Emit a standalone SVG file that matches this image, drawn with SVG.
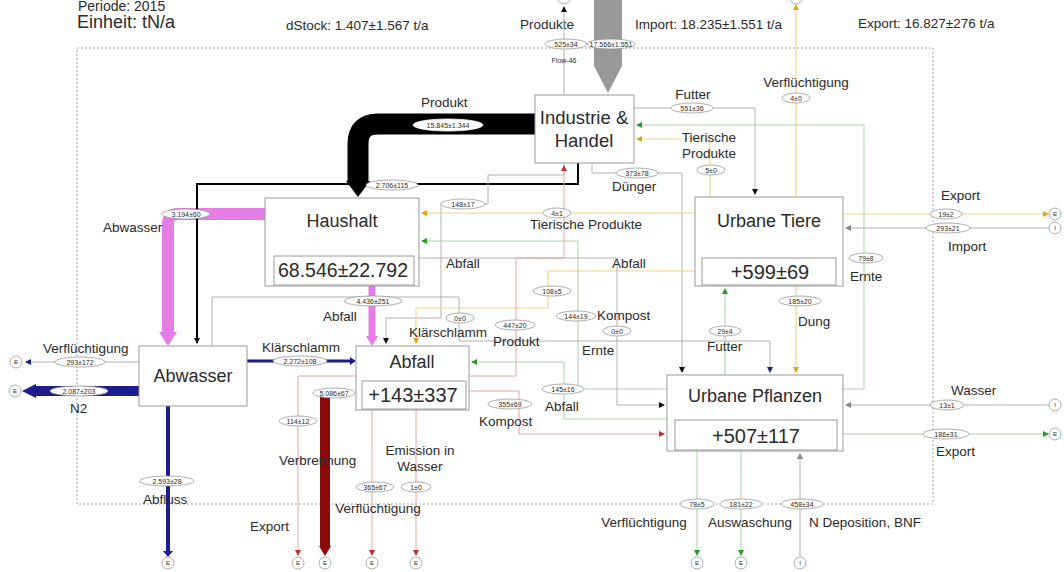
<svg xmlns="http://www.w3.org/2000/svg" width="1064" height="572" viewBox="0 0 1064 572">
<style>
text{font-family:"Liberation Sans",Arial,sans-serif;fill:#2a2a2a}
.t{font-size:13.5px}
.tm{font-size:13.5px;text-anchor:middle}
.head{font-size:17px}
.title{font-size:18px;text-anchor:middle}
.val{font-size:20px;text-anchor:middle}
.box{fill:#fff;stroke:#999;stroke-width:1}
.lb ellipse{fill:#fff;stroke:#999;stroke-width:0.8}
.lb text{font-size:7px;text-anchor:middle}
.c{fill:none;stroke:#b0b0b0;stroke-width:1}
.co{fill:none;stroke:#f2d58a;stroke-width:1.2}
.cg{fill:none;stroke:#a8d4a8;stroke-width:1}
.cr{fill:none;stroke:#e2a6a6;stroke-width:1}
.cir circle{fill:#fff;stroke:#999;stroke-width:0.8}
.cir text{font-size:6px;text-anchor:middle}
</style>
<defs>
<marker id="ak" markerWidth="6" markerHeight="6" refX="5" refY="3" orient="auto" markerUnits="userSpaceOnUse"><path d="M0,0 L6,3 L0,6z" fill="#111"/></marker>
<marker id="ao" markerWidth="6" markerHeight="6" refX="5" refY="3" orient="auto" markerUnits="userSpaceOnUse"><path d="M0,0 L6,3 L0,6z" fill="#e8a020"/></marker>
<marker id="ag" markerWidth="6" markerHeight="6" refX="5" refY="3" orient="auto" markerUnits="userSpaceOnUse"><path d="M0,0 L6,3 L0,6z" fill="#2a9a2a"/></marker>
<marker id="ar" markerWidth="6" markerHeight="6" refX="5" refY="3" orient="auto" markerUnits="userSpaceOnUse"><path d="M0,0 L6,3 L0,6z" fill="#c03030"/></marker>
<marker id="ab" markerWidth="6" markerHeight="6" refX="5" refY="3" orient="auto" markerUnits="userSpaceOnUse"><path d="M0,0 L6,3 L0,6z" fill="#1c1c8c"/></marker>
<marker id="ay" markerWidth="6" markerHeight="6" refX="5" refY="3" orient="auto" markerUnits="userSpaceOnUse"><path d="M0,0 L6,3 L0,6z" fill="#888"/></marker>
</defs>
<rect width="1064" height="572" fill="#fff"/>

<g id="header">
<text class="head" style="font-size:14px" x="78" y="11">Periode: 2015</text>
<text class="head" style="font-size:18px" x="77" y="28">Einheit: tN/a</text>
<text class="t" x="286" y="30">dStock: 1.407±1.567 t/a</text>
<text class="t" x="520" y="29">Produkte</text>
<text class="t" x="635" y="29">Import: 18.235±1.551 t/a</text>
<text class="t" x="858" y="28">Export: 16.827±276 t/a</text>
</g>

<rect id="boundary" x="77" y="48" width="856" height="456" fill="none" stroke="#aaa" stroke-width="1" stroke-dasharray="2,2"/>

<g id="connectors">
<path d="M594,0 H622 V66 L608,93 L594,66 Z" fill="#999"/>
<path d="M535,124 H378 Q358,124 358,144 V183" fill="none" stroke="#000" stroke-width="21"/>
<path d="M346,181 L370,181 L358,197 Z" fill="#000"/>
<path d="M265,214 H178 Q168,214 168,224 V333" fill="none" stroke="#e47ee4" stroke-width="12"/>
<path d="M159,332 L177,332 L168,346 Z" fill="#e47ee4"/>
<path d="M372,286 V337" fill="none" stroke="#e47ee4" stroke-width="7"/>
<path d="M366,336 L378,336 L372,346 Z" fill="#e47ee4"/>
<path d="M139,391 H34" fill="none" stroke="#1c1c8c" stroke-width="10"/>
<path d="M36,384 L36,398 L22,391 Z" fill="#1c1c8c"/>
<path d="M247,361 H352" fill="none" stroke="#1c1c8c" stroke-width="3"/>
<path d="M350,357 L356,361 L350,365 Z" fill="#1c1c8c"/>
<path d="M168,406 V552" fill="none" stroke="#1c1c8c" stroke-width="4"/>
<path d="M163,551 L173,551 L168,557 Z" fill="#1c1c8c"/>
<path d="M325,393 V547" fill="none" stroke="#8b0a0a" stroke-width="10"/>
<path d="M319,546 L331,546 L325,556 Z" fill="#8b0a0a"/>
<path class="c" d="M564,95 V7" stroke="#666" marker-end="url(#ak)"/>
<path d="M578,163 V184 H197 V343" fill="none" stroke="#000" stroke-width="2" marker-end="url(#ak)"/>
<path class="c" d="M634,108 H755 V194" marker-end="url(#ak)"/>
<path class="c" d="M592,163 V173 H682 V372" marker-end="url(#ak)"/>
<path class="c" d="M564,163 V175 H488 V204 H441 V318 H386 V343" marker-end="url(#ak)"/>
<path class="co" d="M796,197 V5" marker-end="url(#ao)"/>
<path class="co" d="M710,197 V139 H637" marker-end="url(#ao)"/>
<path class="co" d="M695,213 H422" marker-end="url(#ao)"/>
<path class="co" d="M796,286 V372" marker-end="url(#ao)"/>
<path class="co" d="M843,214 H1048" marker-end="url(#ao)"/>
<path class="c" d="M1049,228 H846" marker-end="url(#ay)"/>
<path class="co" d="M695,271 H548 V308 H416 V343" stroke-width="0.9" marker-end="url(#ao)"/>
<path class="cg" d="M843,389 H864 V125 H637" marker-end="url(#ag)"/>
<path class="cg" d="M667,389 H578 V241 H422" marker-end="url(#ag)"/>
<path class="cg" d="M667,419 H564 V362 H472" marker-end="url(#ag)"/>
<path class="cg" d="M725,375 V289" marker-end="url(#ag)"/>
<path class="cg" d="M843,434 H1048" marker-end="url(#ag)"/>
<path class="cg" d="M697,451 V555" marker-end="url(#ag)"/>
<path class="cg" d="M741,451 V555" marker-end="url(#ag)"/>
<path class="c" d="M1049,405 H846" marker-end="url(#ay)"/>
<path class="c" d="M800,556 V454" marker-end="url(#ay)"/>
<path class="c" d="M419,258 H617 V405 H664" marker-end="url(#ak)"/>
<path class="c" d="M139,362 H26" marker-end="url(#ab)"/>
<path class="c" d="M212,346 V297 H459 V341 H770 V372" marker-end="url(#ab)"/>
<path class="cr" d="M469,376 H516 V258 H564 V166" marker-end="url(#ar)"/>
<path class="cr" d="M469,391 H519 V434 H664" marker-end="url(#ar)"/>
<path class="cr" d="M356,376 H298 V555" marker-end="url(#ar)"/>
<path class="cr" d="M372,410 V555" marker-end="url(#ar)"/>
<path class="cr" d="M416,410 V555" marker-end="url(#ar)"/>
</g>

<g id="labels">
<g class="lb"><ellipse cx="566" cy="44" rx="21" ry="5"/><text x="566" y="46.5">525±34</text></g>
<g class="lb"><ellipse cx="611" cy="44" rx="24" ry="5"/><text x="611" y="46.5">17.566±1.551</text></g>
<text x="564" y="63" style="font-size:7px;text-anchor:middle">Flow-46</text>
<text class="t" x="421" y="107">Produkt</text>
<g class="lb"><ellipse cx="448" cy="125" rx="35" ry="6" style="stroke:#fff"/><text x="448" y="127.5">15.845±1.344</text></g>
<g class="lb"><ellipse cx="392" cy="185" rx="26" ry="5"/><text x="392" y="187.5">2.706±115</text></g>
<text class="tm" x="693" y="99">Futter</text>
<g class="lb"><ellipse cx="692" cy="108" rx="21" ry="5"/><text x="692" y="110.5">551±36</text></g>
<text class="tm" x="806" y="87">Verflüchtigung</text>
<g class="lb"><ellipse cx="796" cy="98" rx="14" ry="5"/><text x="796" y="100.5">4±0</text></g>
<text class="tm" x="709" y="142">Tierische</text>
<text class="tm" x="709" y="158">Produkte</text>
<g class="lb"><ellipse cx="711" cy="170" rx="14" ry="5"/><text x="711" y="172.5">5±0</text></g>
<g class="lb"><ellipse cx="637" cy="173" rx="21" ry="5"/><text x="637" y="175.5">373±78</text></g>
<text class="t" x="612" y="191">Dünger</text>
<g class="lb"><ellipse cx="186" cy="214" rx="24" ry="5"/><text x="186" y="216.5">3.194±60</text></g>
<text class="t" x="103" y="232">Abwasser</text>
<g class="lb"><ellipse cx="463" cy="204" rx="22" ry="5"/><text x="463" y="206.5">148±17</text></g>
<g class="lb"><ellipse cx="557" cy="213" rx="14" ry="5"/><text x="557" y="215.5">4±1</text></g>
<text class="t" x="530" y="229">Tierische Produkte</text>
<text class="t" x="941" y="200">Export</text>
<g class="lb"><ellipse cx="946" cy="214" rx="16" ry="5"/><text x="946" y="216.5">19±2</text></g>
<g class="lb"><ellipse cx="948" cy="228" rx="22" ry="5"/><text x="948" y="230.5">293±21</text></g>
<text class="t" x="948" y="251">Import</text>
<g class="lb"><ellipse cx="866" cy="258" rx="17" ry="5"/><text x="866" y="260.5">79±8</text></g>
<text class="t" x="850" y="281">Ernte</text>
<text class="t" x="446" y="268">Abfall</text>
<text class="t" x="612" y="268">Abfall</text>
<g class="lb"><ellipse cx="552" cy="291" rx="19" ry="5"/><text x="552" y="293.5">108±5</text></g>
<g class="lb"><ellipse cx="800" cy="301" rx="21" ry="5"/><text x="800" y="303.5">185±20</text></g>
<text class="t" x="798" y="326">Dung</text>
<g class="lb"><ellipse cx="373" cy="301" rx="29" ry="5"/><text x="373" y="303.5">4.436±251</text></g>
<text class="t" x="323" y="321">Abfall</text>
<g class="lb"><ellipse cx="460" cy="318" rx="14" ry="5"/><text x="460" y="320.5">0±0</text></g>
<text class="t" x="409" y="337">Klärschlamm</text>
<g class="lb"><ellipse cx="515" cy="325" rx="20" ry="5"/><text x="515" y="327.5">447±20</text></g>
<text class="t" x="493" y="346">Produkt</text>
<g class="lb"><ellipse cx="576" cy="316" rx="20" ry="5"/><text x="576" y="318.5">144±19</text></g>
<text class="t" x="597" y="320">Kompost</text>
<g class="lb"><ellipse cx="617" cy="331" rx="14" ry="5"/><text x="617" y="333.5">0±0</text></g>
<text class="t" x="582" y="355">Ernte</text>
<g class="lb"><ellipse cx="725" cy="331" rx="16" ry="5"/><text x="725" y="333.5">29±4</text></g>
<text class="t" x="707" y="351">Futter</text>
<text class="t" x="43" y="353">Verflüchtigung</text>
<g class="lb"><ellipse cx="80" cy="362" rx="25" ry="5"/><text x="80" y="364.5">293±172</text></g>
<text class="t" x="262" y="352">Klärschlamm</text>
<g class="lb"><ellipse cx="300" cy="361" rx="27" ry="5"/><text x="300" y="363.5">2.272±108</text></g>
<g class="lb"><ellipse cx="79" cy="391" rx="29" ry="5"/><text x="79" y="393.5">2.087±203</text></g>
<text class="t" x="70" y="413">N2</text>
<g class="lb"><ellipse cx="563" cy="389" rx="21" ry="5"/><text x="563" y="391.5">145±16</text></g>
<text class="t" x="545" y="411">Abfall</text>
<g class="lb"><ellipse cx="334" cy="393" rx="21" ry="5"/><text x="334" y="395.5">5.086±67</text></g>
<g class="lb"><ellipse cx="510" cy="404" rx="22" ry="5"/><text x="510" y="406.5">355±69</text></g>
<text class="t" x="479" y="426">Kompost</text>
<text class="t" x="951" y="395">Wasser</text>
<g class="lb"><ellipse cx="947" cy="405" rx="17" ry="5"/><text x="947" y="407.5">13±1</text></g>
<g class="lb"><ellipse cx="946" cy="434" rx="23" ry="5"/><text x="946" y="436.5">186±31</text></g>
<text class="t" x="936" y="456">Export</text>
<g class="lb"><ellipse cx="298" cy="421" rx="19" ry="5"/><text x="298" y="423.5">114±12</text></g>
<text class="t" x="279" y="465">Verbrennung</text>
<text class="tm" x="420" y="455">Emission in</text>
<text class="tm" x="420" y="471">Wasser</text>
<g class="lb"><ellipse cx="375" cy="487" rx="19" ry="5"/><text x="375" y="489.5">365±67</text></g>
<g class="lb"><ellipse cx="416" cy="487" rx="15" ry="5"/><text x="416" y="489.5">1±0</text></g>
<text class="tm" x="378" y="513">Verflüchtigung</text>
<g class="lb"><ellipse cx="167" cy="481" rx="27" ry="5"/><text x="167" y="483.5">2.593±28</text></g>
<text class="t" x="143" y="504">Abfluss</text>
<text class="t" x="250" y="531">Export</text>
<g class="lb"><ellipse cx="697" cy="504" rx="17" ry="5"/><text x="697" y="506.5">78±5</text></g>
<g class="lb"><ellipse cx="741" cy="504" rx="21" ry="5"/><text x="741" y="506.5">181±22</text></g>
<g class="lb"><ellipse cx="802" cy="504" rx="21" ry="5"/><text x="802" y="506.5">458±34</text></g>
<text class="tm" x="644" y="527">Verflüchtigung</text>
<text class="tm" x="750" y="527">Auswaschung</text>
<text class="tm" x="865" y="527">N Deposition, BNF</text>
</g>

<g id="terminals" class="cir">
<circle cx="564" cy="-2" r="6"/>
<circle cx="796" cy="-2" r="6"/>
<circle cx="16" cy="362" r="6"/><text x="16" y="364">E</text>
<circle cx="15" cy="391" r="6"/><text x="15" y="393">E</text>
<circle cx="168" cy="563" r="6"/><text x="168" y="565">E</text>
<circle cx="298" cy="563" r="6"/><text x="298" y="565">E</text>
<circle cx="325" cy="563" r="6"/><text x="325" y="565">E</text>
<circle cx="372" cy="563" r="6"/><text x="372" y="565">E</text>
<circle cx="416" cy="563" r="6"/><text x="416" y="565">E</text>
<circle cx="697" cy="563" r="6"/><text x="697" y="565">E</text>
<circle cx="741" cy="563" r="6"/><text x="741" y="565">E</text>
<circle cx="800" cy="563" r="6"/><text x="800" y="565">I</text>
<circle cx="1055" cy="214" r="6"/><text x="1055" y="216">E</text>
<circle cx="1055" cy="228" r="6"/><text x="1055" y="230">I</text>
<circle cx="1055" cy="405" r="6"/><text x="1055" y="407">I</text>
<circle cx="1055" cy="434" r="6"/><text x="1055" y="436">E</text>
</g>

<g id="industrie"><rect class="box" x="535" y="95" width="99" height="68"/><text class="title" style="font-size:18.5px" x="584" y="124">Industrie &amp;</text><text class="title" style="font-size:18.5px" x="584" y="147">Handel</text></g>
<g id="haushalt"><rect class="box" x="265" y="198" width="154" height="88"/><text class="title" x="342" y="227">Haushalt</text><rect class="box" x="274" y="256" width="140" height="29"/><text class="val" style="font-size:19.5px" x="343" y="277">68.546±22.792</text></g>
<g id="urbane-tiere"><rect class="box" x="695" y="197" width="148" height="89"/><text class="title" x="769" y="227">Urbane Tiere</text><rect class="box" x="702" y="258" width="134" height="27"/><text class="val" x="770" y="279">+599±69</text></g>
<g id="abwasser"><rect class="box" x="139" y="346" width="108" height="60"/><text class="title" x="193" y="382">Abwasser</text></g>
<g id="abfall"><rect class="box" x="356" y="346" width="113" height="64"/><text class="title" x="412" y="368">Abfall</text><rect class="box" x="362" y="381" width="104" height="28"/><text class="val" x="413" y="402">+143±337</text></g>
<g id="urbane-pflanzen"><rect class="box" x="667" y="375" width="176" height="76"/><text class="title" x="755" y="402">Urbane Pflanzen</text><rect class="box" x="675" y="420" width="162" height="30"/><text class="val" x="756" y="443">+507±117</text></g>
</svg>
